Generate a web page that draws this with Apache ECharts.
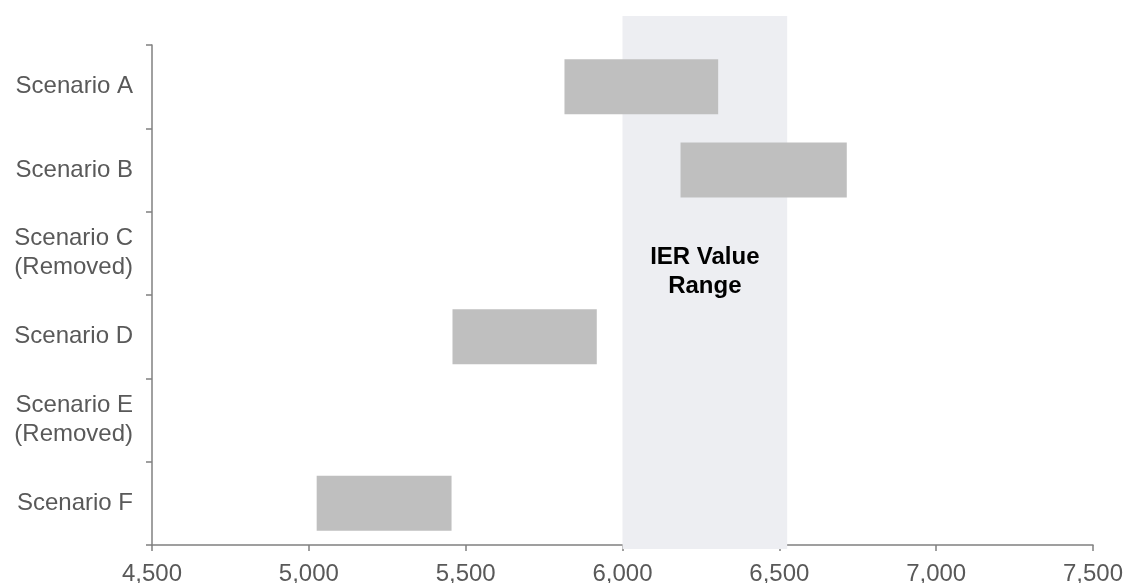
<!DOCTYPE html>
<html><head><meta charset="utf-8">
<script src="https://cdn.jsdelivr.net/npm/echarts@6/dist/echarts.min.js"></script>
<style>html,body{margin:0;padding:0;background:#fff}#c{width:1125px;height:583px}</style>
</head><body><div id="c"></div>
<script>
var categories = ['Scenario A', 'Scenario B', 'Scenario C\n(Removed)', 'Scenario D', 'Scenario E\n(Removed)', 'Scenario F'];
var rangeLow  = [5815, 6185, null, 5458, null, 5025];
var rangeHigh = [6305, 6715, null, 5918, null, 5455];
var xTicks = [4500, 5000, 5500, 6000, 6500, 7000, 7500];
var ierRange = [6000, 6525];
var ierLabel = 'IER Value\nRange';

var spans = rangeHigh.map(function (h, i) { return h == null ? null : h - rangeLow[i]; });
var FONT = 'Liberation Sans, Arial, sans-serif';

var chart = echarts.init(document.getElementById('c'));
chart.setOption({
  animation: false,
  grid: [
    { left: 152, right: 32, top: 45, bottom: 38, outerBoundsMode: 'none', containLabel: false },
    { left: 152, right: 32, top: 16, bottom: 34, outerBoundsMode: 'none', containLabel: false }
  ],
  xAxis: [{
    gridIndex: 0, type: 'value', min: xTicks[0], max: xTicks[xTicks.length - 1], interval: 500,
    axisLine: { show: true, lineStyle: { color: '#808080', width: 1.5 } },
    axisTick: { show: true, length: 6, lineStyle: { color: '#808080', width: 1.5 } },
    splitLine: { show: false },
    axisLabel: { color: '#595959', fontSize: 24, fontFamily: FONT, margin: 17,
      formatter: function (v) { return v.toLocaleString('en-US'); } }
  }, {
    gridIndex: 1, type: 'value', min: xTicks[0], max: xTicks[xTicks.length - 1], show: false
  }],
  yAxis: [{
    gridIndex: 0, type: 'category', data: categories, inverse: true,
    axisLine: { show: true, lineStyle: { color: '#808080', width: 1.5 } },
    axisTick: { show: true, length: 6, lineStyle: { color: '#808080', width: 1.5 } },
    axisLabel: { color: '#595959', fontSize: 24, fontFamily: FONT, margin: 19, lineHeight: 29, align: 'right' },
    splitLine: { show: false }
  }, {
    gridIndex: 1, type: 'value', min: 0, max: 1, show: false
  }],
  series: [{
    type: 'line', xAxisIndex: 1, yAxisIndex: 1, data: [], z: 0, silent: true,
    markArea: {
      silent: true,
      itemStyle: { color: '#edeef2' },
      label: { show: true, position: 'inside', formatter: ierLabel, color: '#000', fontWeight: 'bold',
        fontSize: 24, lineHeight: 29, fontFamily: FONT, offset: [0, -11] },
      data: [[{ xAxis: ierRange[0] }, { xAxis: ierRange[1] }]]
    }
  }, {
    type: 'bar', stack: 'r', data: rangeLow, barWidth: '66%', itemStyle: { color: 'transparent' }, silent: true, z: 2
  }, {
    type: 'bar', stack: 'r', data: spans, barWidth: '66%', itemStyle: { color: '#bfbfbf' }, z: 3
  }]
});
</script></body></html>
